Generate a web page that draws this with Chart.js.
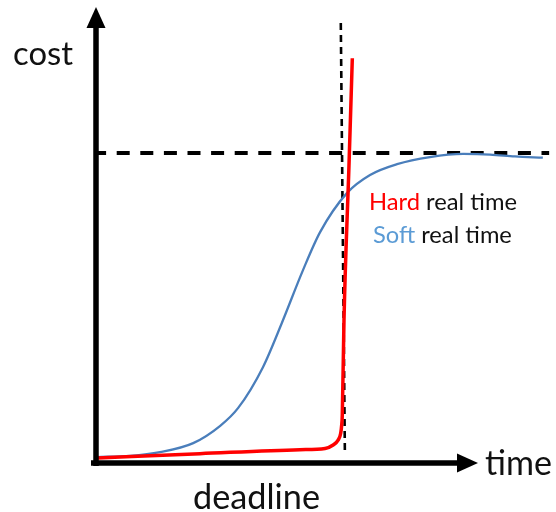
<!DOCTYPE html>
<html>
<head>
<meta charset="utf-8">
<script src="https://cdn.jsdelivr.net/npm/chart.js@4.4.1/dist/chart.umd.min.js"></script>
<style>
  html, body { margin: 0; padding: 0; background: #ffffff; }
  #wrap { width: 556px; height: 512px; }
</style>
</head>
<body>
<div id="wrap"><canvas id="c" width="556" height="512"></canvas></div>
<script>
// ---- data (time on x, cost on y; cost 100 = maximum cost level) ----
const timeSoft = [0.2, 7.6, 14.2, 21.6, 27.6, 31.6, 37.1, 41.3, 46.0, 49.8, 55.8, 60.9, 66.9, 74.2, 81.6, 87.6, 93.1, 99.3];
const costSoft = [1.6, 2.0, 3.2, 6.1, 11.7, 17.5, 30.7, 45.0, 62.1, 74.4, 87.1, 92.9, 96.4, 98.7, 99.7, 99.5, 98.9, 98.5];

const timeHard = [0.4, 23.1, 45.3, 50.9, 52.7, 53.8, 54.38, 54.6, 54.73, 55.11, 56.22, 56.96];
const costHard = [1.3, 2.7, 4.0, 4.4, 5.5, 7.1, 9.3, 12.0, 15.2, 46.0, 96.1, 130.7];

const deadlineTime = [54.4, 55.3];
const deadlineCost = [142.1, 3.9];

const maxCostTime = [0.2, 100.7];
const maxCostLevel = [100, 100];

const axisLabels = { y: "cost", x: "time", deadline: "deadline" };
const legendLines = [
  { key: "Hard", rest: " real time" },
  { key: "Soft", rest: " real time" }
];

// ---- build library structures ----
const toPts = (xs, ys) => xs.map((x, i) => ({ x: x, y: ys[i] }));

const FONT = "Lato, 'Open Sans', sans-serif";

function fitFont(ctx, text, targetWidth) {
  ctx.font = "100px " + FONT;
  const w = ctx.measureText(text).width;
  return 100 * targetWidth / w;
}

const decorPlugin = {
  id: "decor",
  afterDatasetsDraw(chart) {
    const ctx = chart.ctx;
    const xs = chart.scales.x, ys = chart.scales.y;
    const ox = xs.getPixelForValue(0);
    const oy = ys.getPixelForValue(0) + 1;
    ctx.save();
    ctx.fillStyle = "#000";
    // y axis shaft + arrowhead
    ctx.fillRect(ox - 2.75, 27, 5.5, oy + 3 - 27);
    ctx.beginPath();
    ctx.moveTo(ox - 9.5, 28);
    ctx.lineTo(ox + 9.5, 28);
    ctx.lineTo(ox, 7);
    ctx.closePath();
    ctx.fill();
    // x axis shaft + arrowhead
    ctx.fillRect(91, oy - 2.75, 458 - 91, 5.5);
    ctx.beginPath();
    ctx.moveTo(457, oy - 9.5);
    ctx.lineTo(457, oy + 9.5);
    ctx.lineTo(478, oy);
    ctx.closePath();
    ctx.fill();

    // axis texts
    ctx.textBaseline = "alphabetic";
    ctx.textAlign = "left";
    ctx.fillStyle = "#111";
    let fs = fitFont(ctx, axisLabels.y, 60);
    ctx.font = fs + "px " + FONT;
    ctx.fillText(axisLabels.y, 13, 65);
    fs = fitFont(ctx, axisLabels.x, 67);
    ctx.font = fs + "px " + FONT;
    ctx.fillText(axisLabels.x, 485, 475);
    fs = fitFont(ctx, axisLabels.deadline, 127);
    ctx.font = fs + "px " + FONT;
    ctx.fillText(axisLabels.deadline, 193, 509);

    // legend texts
    const legendSpec = [
      { x: 369, y: 210, w: 148, color: "#ff0000" },
      { x: 373, y: 243, w: 139, color: "#5b9bd5" }
    ];
    legendLines.forEach((ln, i) => {
      const s = legendSpec[i];
      const full = ln.key + ln.rest;
      const f = fitFont(ctx, full, s.w);
      ctx.font = f + "px " + FONT;
      ctx.fillStyle = s.color;
      ctx.fillText(ln.key, s.x, s.y);
      const kw = ctx.measureText(ln.key).width;
      ctx.fillStyle = "#111";
      ctx.fillText(ln.rest, s.x + kw, s.y);
    });
    ctx.restore();
  }
};

new Chart(document.getElementById("c"), {
  type: "scatter",
  data: {
    datasets: [
      {
        label: "Hard real time",
        data: toPts(timeHard, costHard),
        showLine: true,
        borderColor: "#ff0000",
        borderWidth: 3.5,
        pointRadius: 0,
        cubicInterpolationMode: "monotone",
        borderCapStyle: "butt",
        clip: false
      },
      {
        label: "Soft real time",
        data: toPts(timeSoft, costSoft),
        showLine: true,
        borderColor: "#4a7ebb",
        borderWidth: 2.3,
        pointRadius: 0,
        cubicInterpolationMode: "monotone",
        clip: false
      },
      {
        label: "deadline",
        data: toPts(deadlineTime, deadlineCost),
        showLine: true,
        borderColor: "#000",
        borderWidth: 2.6,
        borderDash: [7, 5],
        pointRadius: 0,
        clip: false
      },
      {
        label: "max cost",
        data: toPts(maxCostTime, maxCostLevel),
        showLine: true,
        borderColor: "#000",
        borderWidth: 4,
        borderDash: [13, 10.6],
        borderDashOffset: 3.8,
        pointRadius: 0,
        clip: false
      }
    ]
  },
  options: {
    responsive: false,
    animation: false,
    events: [],
    layout: { padding: { left: 96, right: 1, top: 14, bottom: 50 } },
    plugins: { legend: { display: false }, tooltip: { enabled: false }, title: { display: false } },
    scales: {
      x: { type: "linear", min: 0, max: 102, display: false },
      y: { type: "linear", min: 0, max: 145, display: false }
    }
  },
  plugins: [decorPlugin]
});
</script>
</body>
</html>
